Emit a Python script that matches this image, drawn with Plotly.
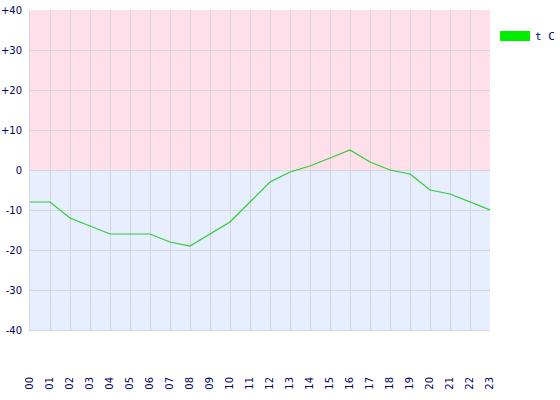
import plotly.graph_objects as go

hours = ["00","01","02","03","04","05","06","07","08","09","10","11",
         "12","13","14","15","16","17","18","19","20","21","22","23"]
temps = [-8, -8, -12, -14, -16, -16, -16, -18, -19, -16, -13, -8,
         -3, -0.5, 1, 3, 5, 2, 0, -1, -5, -6, -8, -10]
y_ticks = [40, 30, 20, 10, 0, -10, -20, -30, -40]
y_labels = ["+40", "+30", "+20", "+10", "0", "-10", "-20", "-30", "-40"]
series_name = "t C"

xs = list(range(len(hours)))

fig = go.Figure()
fig.add_trace(go.Scatter(x=xs, y=temps, mode="lines",
                         line=dict(color="#2fcc2f", width=1.2),
                         showlegend=False, hoverinfo="skip"))
fig.add_trace(go.Scatter(x=[None], y=[None], mode="lines", name=series_name,
                         line=dict(color="#00ee00", width=10)))

fig.add_shape(type="rect", xref="paper", yref="y", x0=0, x1=1, y0=0, y1=40,
              fillcolor="#ffe0ea", line_width=0, layer="below")
fig.add_shape(type="rect", xref="paper", yref="y", x0=0, x1=1, y0=-40, y1=0,
              fillcolor="#e6eeff", line_width=0, layer="below")

fig.update_layout(
    width=560, height=400,
    margin=dict(l=30, r=70, t=10, b=70, autoexpand=False),
    paper_bgcolor="white", plot_bgcolor="rgba(0,0,0,0)",
    font=dict(family="DejaVu Sans", size=10, color="#000066"),
    legend=dict(x=1.011, xanchor="left", y=0.919, yanchor="middle",
                font=dict(family="DejaVu Sans Mono", size=11, color="#000066"),
                bgcolor="rgba(0,0,0,0)", itemwidth=30, tracegroupgap=0),
)
fig.update_xaxes(range=[0, len(hours) - 1], tickvals=xs, ticktext=hours,
                 tickangle=-90, showgrid=True, gridcolor="#d6d6de", gridwidth=1,
                 zeroline=False, showline=True, linecolor="#d6d6de",
                 ticks="", ticklabelstandoff=42, automargin=False,
                 tickfont=dict(family="DejaVu Sans", size=10, color="#000066"))
fig.update_yaxes(range=[-40, 40], tickvals=y_ticks, ticktext=y_labels,
                 showgrid=True, gridcolor="#d6d6de", gridwidth=1,
                 zeroline=False, showline=True, linecolor="#d6d6de",
                 ticks="", ticklabelstandoff=5, automargin=False,
                 tickfont=dict(family="DejaVu Sans", size=10, color="#000066"))

fig.write_html("out.html", config={"displayModeBar": False},
               post_script="document.body.style.margin='0';document.body.style.overflow='hidden';")
